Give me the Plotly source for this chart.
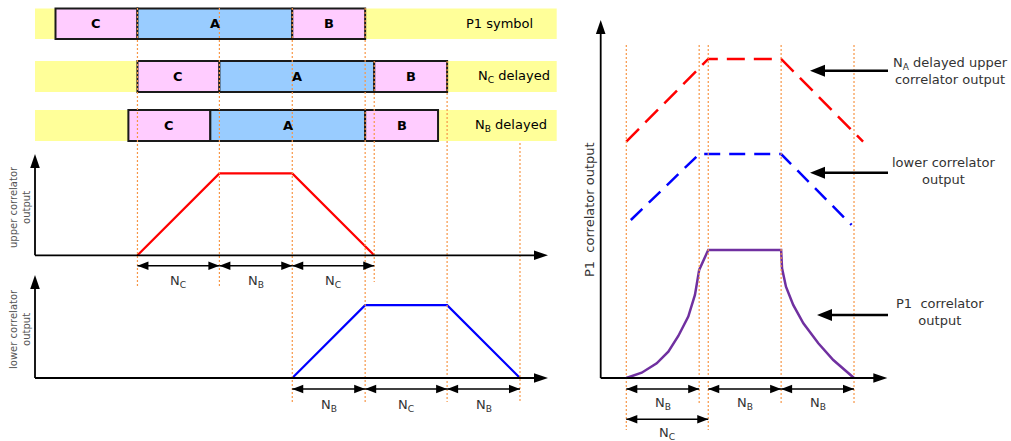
import plotly.graph_objects as go

W, H = 1011, 441

# ---------------- data (in samples / correlator units) ----------------
segment_names = ["C", "A", "B"]
segment_lengths = [542, 1024, 482]          # N_C, N_A, N_B
segment_colors = ["#FFCCFF", "#99CCFF", "#FFCCFF"]
row_labels = ["P1 symbol", "N<sub>C</sub> delayed", "N<sub>B</sub> delayed"]
row_delays = [0, 542, 482]

upper_t = [542, 1084, 1566, 2108]
upper_v = [0, 542, 542, 0]
lower_t = [1566, 2048, 2590, 3072]
lower_v = [0, 482, 482, 0]

left_marker_t = [542, 1084, 1566, 2048, 2108, 2590, 3072]

upper_dim_start = [542, 1084, 1566]
upper_dim_end = [1084, 1566, 2108]
upper_dim_label = ["N<sub>C</sub>", "N<sub>B</sub>", "N<sub>C</sub>"]
lower_dim_start = [1566, 2048, 2590]
lower_dim_end = [2048, 2590, 3072]
lower_dim_label = ["N<sub>B</sub>", "N<sub>C</sub>", "N<sub>B</sub>"]

red_t = [0, 542, 1024, 1566]
red_v = [1563, 2110, 2110, 1563]
blue_t = [30, 482, 1024, 1490]
blue_v = [1045, 1481, 1481, 1012]
p1_t = [0, 102, 201, 278, 344, 410, 454, 482, 542, 1024, 1030, 1056, 1104, 1171, 1270, 1369, 1506]
p1_v = [0, 35, 97, 174, 278, 406, 549, 715, 847, 847, 726, 604, 483, 362, 230, 119, 0]

right_marker_t = [0, 482, 542, 1024, 1506]
right_dim_start = [0, 542, 1024, 0]
right_dim_end = [482, 1024, 1506, 542]
right_dim_label = ["N<sub>B</sub>", "N<sub>B</sub>", "N<sub>B</sub>", "N<sub>C</sub>"]

callout_text = ["N<sub>A</sub> delayed upper<br>correlator output",
                "lower correlator<br>output",
                "P1\u00a0 correlator<br>output"]

# ---------------- layout constants (pixels) ----------------
S = 0.1512            # px per sample
L0 = 55.5             # px of t=0 on left panel
R0 = 626.3            # px of t=0 on right panel
SPLIT = 580
UPPER_BASE = 255.3
LOWER_BASE = 378.0
RIGHT_BASE = 378.0

ROW_TOP = [8.5, 61, 110]
ROW_BOT = [39, 92, 141]
ROW_LABEL_X = [499, 514, 511]

LEFT_MARK_TOP = [8, 8, 8, 8, 61, 61, 143]
LEFT_MARK_BOT = [287, 287, 402, 402, 282, 402, 402]
RIGHT_MARK_TOP = [45, 45, 45, 45, 45]
RIGHT_MARK_BOT = [430, 403, 430, 403, 403]
RIGHT_DIM_Y = [389, 389, 389, 419.3]
RIGHT_DIM_LABEL_Y = [403, 403, 403, 433]
CALLOUT_ARROWS = [(810, 70.7), (810, 172.7), (817, 315)]
CALLOUT_POS = [(950, 70.5), (944, 171), (940, 311.5)]

FONT = "DejaVu Sans"
ORANGE = "#F79646"


def px(x):
    return x / W


def py(y):
    return 1 - y / H


def text(xref, x, yref, y, txt, size, color, **kw):
    d = dict(xref=xref, yref=yref, x=x, y=y, text=txt, showarrow=False,
             xanchor="center", yanchor="middle", align="center",
             font=dict(family=FONT, size=size, color=color))
    d.update(kw)
    return d


fig = go.Figure()

# correlator traces
fig.add_trace(go.Scatter(x=upper_t, y=upper_v, xaxis="x", yaxis="y", mode="lines",
                         line=dict(color="#FF0000", width=2.2), hoverinfo="skip"))
fig.add_trace(go.Scatter(x=lower_t, y=lower_v, xaxis="x", yaxis="y2", mode="lines",
                         line=dict(color="#0000FF", width=2.2), hoverinfo="skip"))
fig.add_trace(go.Scatter(x=red_t, y=red_v, xaxis="x2", yaxis="y3", mode="lines",
                         line=dict(color="#FF0000", width=2.5, dash="18px,9px"), hoverinfo="skip"))
fig.add_trace(go.Scatter(x=blue_t, y=blue_v, xaxis="x2", yaxis="y3", mode="lines",
                         line=dict(color="#0000FF", width=2.5, dash="16px,9px"), hoverinfo="skip"))
fig.add_trace(go.Scatter(x=p1_t, y=p1_v, xaxis="x2", yaxis="y3", mode="lines",
                         line=dict(color="#7030A0", width=2.5), hoverinfo="skip"))

shapes = []
annotations = []

# yellow bands
for r in range(3):
    shapes.append(dict(type="rect", xref="paper", yref="paper", x0=px(35), x1=px(556.7),
                       y0=py(ROW_BOT[r]), y1=py(ROW_TOP[r]), fillcolor="#FFFF99",
                       line=dict(width=0), layer="below"))

# symbol boxes
for r in range(3):
    start = row_delays[r]
    ymid = py((ROW_TOP[r] + ROW_BOT[r]) / 2)
    for name, length, col in zip(segment_names, segment_lengths, segment_colors):
        shapes.append(dict(type="rect", xref="x", yref="paper", x0=start, x1=start + length,
                           y0=py(ROW_BOT[r]), y1=py(ROW_TOP[r]), fillcolor=col,
                           line=dict(color="#1A1A1A", width=2)))
        annotations.append(text("x", start + length / 2, "paper", ymid,
                                "<b>%s</b>" % name, 13, "#000"))
        start += length
    annotations.append(text("paper", px(ROW_LABEL_X[r]), "paper", ymid, row_labels[r], 13, "#000"))

# orange dotted markers
for t, y0, y1 in zip(left_marker_t, LEFT_MARK_TOP, LEFT_MARK_BOT):
    shapes.append(dict(type="line", xref="x", yref="paper", x0=t, x1=t, y0=py(y0), y1=py(y1),
                       line=dict(color=ORANGE, width=1.2, dash="2px,2px")))
for t, y0, y1 in zip(right_marker_t, RIGHT_MARK_TOP, RIGHT_MARK_BOT):
    shapes.append(dict(type="line", xref="x2", yref="paper", x0=t, x1=t, y0=py(y0), y1=py(y1),
                       line=dict(color=ORANGE, width=1.2, dash="2px,2px")))


def head(xref, xa, yref, ya, direction, length, half, color="#000"):
    if direction == "right":
        path = "M0,0 L%g,%g L%g,%g Z" % (-length, half, -length, -half)
    elif direction == "left":
        path = "M0,0 L%g,%g L%g,%g Z" % (length, half, length, -half)
    else:  # up
        path = "M0,0 L%g,%g L%g,%g Z" % (-half, -length, half, -length)
    return dict(type="path", xref=xref, yref=yref, xsizemode="pixel", ysizemode="pixel",
                xanchor=xa, yanchor=ya, path=path, fillcolor=color, line=dict(width=0))


def axis_arrows(x_px, base_px, tip_y_px, tip_x_px):
    out = []
    out.append(dict(type="line", xref="paper", yref="paper", x0=px(x_px), x1=px(x_px),
                    y0=py(base_px), y1=py(tip_y_px + 6), line=dict(color="#000", width=1.8)))
    out.append(head("paper", px(x_px), "paper", py(tip_y_px), "up", 14, 4.8))
    out.append(dict(type="line", xref="paper", yref="paper", x0=px(x_px), x1=px(tip_x_px - 6),
                    y0=py(base_px), y1=py(base_px), line=dict(color="#000", width=1.8)))
    out.append(head("paper", px(tip_x_px), "paper", py(base_px), "right", 14, 4.8))
    return out


shapes += axis_arrows(35, UPPER_BASE, 154, 548)
shapes += axis_arrows(35, LOWER_BASE, 275, 548)
shapes += axis_arrows(600.7, RIGHT_BASE, 20, 887.3)


def dim_arrow(xref, t0, t1, y_px, label, label_y_px):
    out = [dict(type="line", xref=xref, yref="paper", x0=t0, x1=t1, y0=py(y_px), y1=py(y_px),
                line=dict(color="#000", width=1.5))]
    out.append(head(xref, t0, "paper", py(y_px), "left", 11, 4.3))
    out.append(head(xref, t1, "paper", py(y_px), "right", 11, 4.3))
    ann = text(xref, (t0 + t1) / 2, "paper", py(label_y_px), label, 13, "#333")
    return out, ann


for a, b, lab in zip(upper_dim_start, upper_dim_end, upper_dim_label):
    s_, an = dim_arrow("x", a, b, 265.7, lab, 281)
    shapes += s_
    annotations.append(an)
for a, b, lab in zip(lower_dim_start, lower_dim_end, lower_dim_label):
    s_, an = dim_arrow("x", a, b, 389, lab, 405)
    shapes += s_
    annotations.append(an)
for a, b, lab, yy, ly in zip(right_dim_start, right_dim_end, right_dim_label, RIGHT_DIM_Y, RIGHT_DIM_LABEL_Y):
    s_, an = dim_arrow("x2", a, b, yy, lab, ly)
    shapes += s_
    annotations.append(an)

# callout arrows on the right
for tip_x, y in CALLOUT_ARROWS:
    shapes.append(dict(type="line", xref="paper", yref="paper", x0=px(tip_x + 8), x1=px(888),
                       y0=py(y), y1=py(y), line=dict(color="#000", width=2.6)))
    shapes.append(head("paper", px(tip_x), "paper", py(y), "left", 15, 6))

for txt, (cx, cy) in zip(callout_text, CALLOUT_POS):
    annotations.append(text("paper", px(cx), "paper", py(cy), txt, 13, "#333"))

# axis titles
annotations.append(text("paper", px(20), "paper", py(207), "upper correlator<br>output",
                        10, "#555", textangle=-90))
annotations.append(text("paper", px(20), "paper", py(329), "lower correlator<br>output",
                        10, "#555", textangle=-90))
annotations.append(text("paper", px(589), "paper", py(210), "P1\u00a0 correlator output",
                        13, "#333", textangle=-90))

hidden = dict(visible=False, fixedrange=True)
fig.update_layout(
    width=W, height=H, autosize=False,
    margin=dict(l=0, r=0, t=0, b=0, pad=0),
    paper_bgcolor="white", plot_bgcolor="rgba(0,0,0,0)",
    showlegend=False,
    xaxis=dict(domain=[0, SPLIT / W], range=[(0 - L0) / S, (SPLIT - L0) / S], anchor="y", **hidden),
    yaxis=dict(domain=[0, 1], range=[(UPPER_BASE - H) / S, UPPER_BASE / S], anchor="x", **hidden),
    yaxis2=dict(domain=[0, 1], range=[(LOWER_BASE - H) / S, LOWER_BASE / S], anchor="x",
                overlaying="y", **hidden),
    xaxis2=dict(domain=[SPLIT / W, 1], range=[(SPLIT - R0) / S, (W - R0) / S], anchor="y3", **hidden),
    yaxis3=dict(domain=[0, 1], range=[(RIGHT_BASE - H) / S, RIGHT_BASE / S], anchor="x2", **hidden),
    shapes=shapes,
    annotations=annotations,
)

fig.write_html("out.html", config={"displayModeBar": False})
